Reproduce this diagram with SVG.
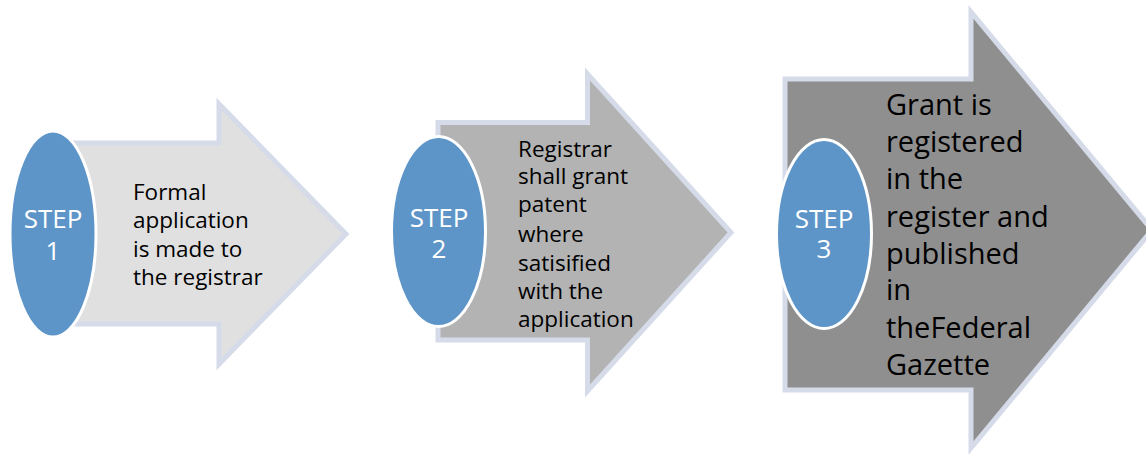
<svg xmlns="http://www.w3.org/2000/svg" width="1146" height="454" viewBox="0 0 1146 454">
<style>
.arrow{stroke:#d5dbe9;stroke-width:5;stroke-linejoin:miter}
.oval{fill:#5e95c8;stroke:#ffffff;stroke-width:3}
.step{font-family:"Open Sans","Liberation Sans",sans-serif;font-size:26px;fill:#ffffff;text-anchor:middle}
.lbl{font-family:"Open Sans","Liberation Sans",sans-serif;fill:#000000}
.s1{font-size:22.5px}
.s3{font-size:29px}
</style>
<rect width="1146" height="454" fill="#ffffff"/>
<g id="connectors"></g>
<g id="step1">
<path class="arrow" fill="#e0e0e0" d="M53,143 H219 V104 L346,234 L219,364 V324 H53 Z"/>
<ellipse class="oval" cx="53" cy="234" rx="43" ry="103"/>
<text class="step" x="53" y="228">STEP</text>
<text class="step" x="53" y="260">1</text>
<text class="lbl s1" x="133" y="200">Formal</text>
<text class="lbl s1" x="133" y="228">application</text>
<text class="lbl s1" x="133" y="257">is made to</text>
<text class="lbl s1" x="133" y="285">the registrar</text>
</g>
<g id="step2">
<path class="arrow" fill="#b3b3b3" d="M438,122.5 H587.5 V74 L731,232.5 L587.5,391 V340 H438 Z"/>
<ellipse class="oval" cx="438.5" cy="231.5" rx="47" ry="95"/>
<text class="step" x="439" y="227">STEP</text>
<text class="step" x="439" y="258">2</text>
<text class="lbl s1" x="518" y="157">Registrar</text>
<text class="lbl s1" x="518" y="184">shall grant</text>
<text class="lbl s1" x="518" y="212">patent</text>
<text class="lbl s1" x="518" y="241.5">where</text>
<text class="lbl s1" x="518" y="271">satisified</text>
<text class="lbl s1" x="518" y="298.5">with the</text>
<text class="lbl s1" x="518" y="326.5">application</text>
</g>
<g id="step3">
<path class="arrow" fill="#8f8f8f" d="M785,79 H971 V12 L1152,230 L971,448 V390 H785 Z"/>
<ellipse class="oval" cx="824" cy="234" rx="47.5" ry="94.5"/>
<text class="step" x="824" y="228">STEP</text>
<text class="step" x="824" y="258">3</text>
<text class="lbl s3" x="886" y="115">Grant is</text>
<text class="lbl s3" x="886" y="152">registered</text>
<text class="lbl s3" x="886" y="188.5">in the</text>
<text class="lbl s3" x="886" y="226.5">register and</text>
<text class="lbl s3" x="886" y="263.5">published</text>
<text class="lbl s3" x="886" y="300">in</text>
<text class="lbl s3" x="886" y="338">theFederal</text>
<text class="lbl s3" x="886" y="375">Gazette</text>
</g>
</svg>
